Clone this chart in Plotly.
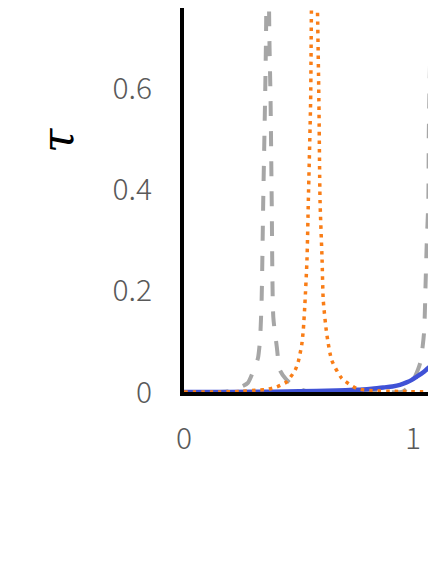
import plotly.graph_objects as go

# --- Data (x = frequency ratio, tau = transmission) ---
gray_x = [0.0, 0.127, 0.188, 0.253, 0.279, 0.310, 0.323, 0.332, 0.339, 0.346, 0.354, 0.358,
          0.365, 0.373, 0.378, 0.383, 0.390, 0.405, 0.419, 0.448, 0.492, 0.541, 0.650, 0.760,
          0.870, 0.956, 0.994, 1.031, 1.048, 1.055, 1.060, 1.067, 1.069, 1.074, 1.081, 1.087,
          1.093, 1.098, 1.105, 1.109, 1.120, 1.150]
gray_tau = [0.0, 0.0, 0.001, 0.011, 0.018, 0.050, 0.067, 0.103, 0.182, 0.379, 0.577, 0.696,
            1.0, 0.696, 0.577, 0.379, 0.148, 0.090, 0.043, 0.024, 0.008, 0.001, 0.0, 0.0,
            0.0, 0.001, 0.017, 0.057, 0.116, 0.215, 0.294, 0.379, 0.512, 0.642, 0.755, 1.0,
            0.755, 0.642, 0.512, 0.379, 0.180, 0.050]

orange_x = [0.0, 0.150, 0.245, 0.332, 0.361, 0.405, 0.448, 0.485, 0.499, 0.514, 0.521, 0.528,
            0.537, 0.543, 0.553, 0.557, 0.569, 0.582, 0.589, 0.594, 0.603, 0.608, 0.623, 0.645,
            0.689, 0.754, 0.812, 0.950, 1.150]
orange_tau = [0.0, 0.0, 0.001, 0.004, 0.005, 0.010, 0.020, 0.043, 0.060, 0.093, 0.123, 0.175,
              0.261, 0.379, 0.577, 0.775, 1.0, 0.775, 0.577, 0.379, 0.261, 0.182, 0.116, 0.063,
              0.027, 0.007, 0.003, 0.001, 0.0]

blue_x = [0.0, 0.200, 0.332, 0.450, 0.579, 0.667, 0.725, 0.783, 0.830, 0.870, 0.910, 0.943,
          0.972, 0.995, 1.016, 1.045, 1.060, 1.080, 1.100, 1.150, 1.200]
blue_tau = [0.0, 0.0002, 0.0005, 0.001, 0.002, 0.003, 0.004, 0.005, 0.007, 0.009, 0.011, 0.014,
            0.019, 0.024, 0.030, 0.039, 0.045, 0.053, 0.063, 0.105, 0.175]

x_ticks = [0, 1]
y_ticks = [0, 0.2, 0.4, 0.6]
y_tick_text = ["0", "0.2", "0.4", "0.6"]

tick_font = dict(family="Noto Sans CJK JP", size=30, color="#595959", weight=300)

fig = go.Figure()

fig.add_trace(go.Scatter(
    x=gray_x, y=gray_tau, mode="lines",
    line=dict(color="#a6a6a6", width=4, dash="15px,15px", shape="spline", smoothing=0.6),
))
fig.add_trace(go.Scatter(
    x=blue_x, y=blue_tau, mode="lines",
    line=dict(color="#4052d6", width=4.5, shape="spline", smoothing=1),
))
fig.add_trace(go.Scatter(
    x=orange_x, y=orange_tau, mode="lines",
    line=dict(color="#f97d16", width=3.5, dash="3.5px,5px", shape="spline", smoothing=0.6),
))

fig.update_xaxes(
    range=[0, 1.1004], tickvals=x_ticks, ticktext=["0", "1"],
    showline=True, linecolor="black", linewidth=4, mirror=False,
    showgrid=False, zeroline=False, ticks="", ticklabelstandoff=17,
    tickfont=tick_font, automargin=False,
)
fig.update_yaxes(
    range=[0, 0.759], tickvals=y_ticks, ticktext=y_tick_text,
    showline=True, linecolor="black", linewidth=4, mirror=False,
    showgrid=False, zeroline=False, ticks="", ticklabelstandoff=22,
    tickfont=tick_font, automargin=False,
)

# axis title
fig.add_annotation(
    text="τ", textangle=-90, showarrow=False,
    xref="paper", yref="paper", x=-0.504, y=0.656,
    xanchor="center", yanchor="middle",
    font=dict(family="DejaVu Serif", size=44, color="black", style="italic"),
)

# the page body keeps its 8px margin, so the paper is 428x556
fig.update_layout(
    width=428, height=556,
    margin=dict(l=176, r=0, t=0, b=172),
    plot_bgcolor="white", paper_bgcolor="white",
    showlegend=False,
)

fig.write_html("out.html")
